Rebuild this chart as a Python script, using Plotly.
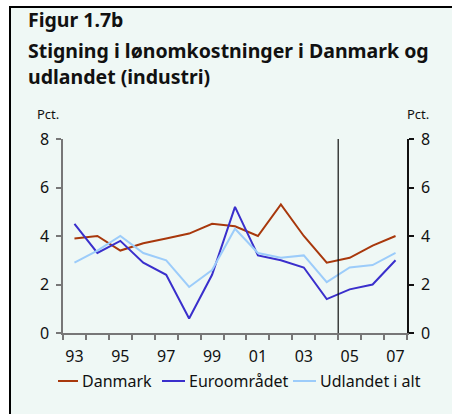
import plotly.graph_objects as go

years = list(range(1993, 2008))
tick_years = [1993, 1995, 1997, 1999, 2001, 2003, 2005, 2007]
tick_labels = ["93", "95", "97", "99", "01", "03", "05", "07"]

danmark = [3.9, 4.0, 3.4, 3.7, 3.9, 4.1, 4.5, 4.4, 4.0, 5.3, 4.0, 2.9, 3.1, 3.6, 4.0]
euro = [4.5, 3.3, 3.8, 2.9, 2.4, 0.6, 2.4, 5.2, 3.2, 3.0, 2.7, 1.4, 1.8, 2.0, 3.0]
udland = [2.9, 3.4, 4.0, 3.3, 3.0, 1.9, 2.6, 4.3, 3.3, 3.1, 3.2, 2.1, 2.7, 2.8, 3.3]

names = ["Danmark", "Euroområdet", "Udlandet i alt"]
colors = ["#a8380c", "#3a2fcc", "#9cccfa"]

W, H = 452, 414
L, R, T, B = 63, 45, 139, 81
pw, ph = W - L - R, H - T - B


def px(x):
    return (x - L) / pw


def py(y):
    return (H - B - y) / ph


BG = "#eff8f5"
FONT = "Noto Sans"

fig = go.Figure()
for name, vals, col in zip(names, [danmark, euro, udland], colors):
    fig.add_trace(go.Scatter(x=years, y=vals, mode="lines", name=name,
                             line=dict(color=col, width=2)))
fig.add_trace(go.Scatter(x=[years[0]], y=[0], yaxis="y2", mode="lines",
                         showlegend=False, hoverinfo="skip",
                         line=dict(color="rgba(0,0,0,0)")))

fig.update_layout(
    width=W, height=H,
    margin=dict(l=L, r=R, t=T, b=B, autoexpand=False),
    paper_bgcolor="white",
    plot_bgcolor="rgba(0,0,0,0)",
    font=dict(family=FONT, size=16, color="#111"),
    showlegend=False,
    xaxis=dict(range=[1992.5, 2007.5], tickvals=tick_years, ticktext=tick_labels,
               ticks="", showgrid=False, zeroline=False, showline=True, automargin=False,
               linecolor="#777", linewidth=1.5, ticklabelstandoff=8,
               minor=dict(ticks="outside", tick0=1992.5, dtick=1, ticklen=5,
                          tickcolor="#777", tickwidth=1.5, showgrid=False)),
    yaxis=dict(range=[0, 8], tickvals=[0, 2, 4, 6, 8], showgrid=False, zeroline=False,
               showline=True, linecolor="#777", linewidth=1.5, ticks="outside",
               automargin=False,
               ticklen=5, tickcolor="#777", tickwidth=1.5, ticklabelstandoff=4),
    yaxis2=dict(range=[0, 8], tickvals=[0, 2, 4, 6, 8], overlaying="y", side="right",
                showgrid=False, zeroline=False, showline=True, linecolor="#111",
                automargin=False,
                linewidth=1.5, ticks="outside", ticklen=5, tickcolor="#111",
                tickwidth=1.5, ticklabelstandoff=4),
)

shapes = [
    dict(type="rect", xref="paper", yref="paper", x0=px(10), x1=px(W), y0=py(H), y1=py(7),
         fillcolor=BG, line=dict(width=0), layer="below"),
    dict(type="line", xref="paper", yref="paper", x0=px(10), x1=px(10), y0=py(H), y1=py(6),
         line=dict(color="black", width=2)),
    dict(type="line", xref="paper", yref="paper", x0=px(9), x1=px(W), y0=py(7), y1=py(7),
         line=dict(color="black", width=2)),
    dict(type="line", xref="x", yref="y", x0=2004.5, x1=2004.5, y0=0, y1=8,
         line=dict(color="#111", width=1.2)),
]

ann = [
    dict(text="<b>Figur 1.7b</b>", x=px(26), y=py(20), xanchor="left", yanchor="middle",
         font=dict(size=19.5, color="#111")),
    dict(text="<b>Stigning i lønomkostninger i Danmark og</b>", x=px(26), y=py(50),
         xanchor="left", yanchor="middle", font=dict(size=19.5, color="#111")),
    dict(text="<b>udlandet (industri)</b>", x=px(26), y=py(76),
         xanchor="left", yanchor="middle", font=dict(size=19.5, color="#111")),
    dict(text="Pct.", x=px(48), y=py(114), xanchor="center", yanchor="middle",
         font=dict(size=13, color="#111")),
    dict(text="Pct.", x=px(418), y=py(114), xanchor="center", yanchor="middle",
         font=dict(size=13, color="#111")),
]

# manual legend
leg_y = 381
leg_lines = [(58, 78), (162, 185), (293, 316)]
for (x0, x1), name, col in zip(leg_lines, names, colors):
    shapes.append(dict(type="line", xref="paper", yref="paper", x0=px(x0), x1=px(x1),
                       y0=py(leg_y), y1=py(leg_y), line=dict(color=col, width=2)))
    ann.append(dict(text=name, x=px(x1 + 2), y=py(leg_y), xanchor="left", yanchor="middle",
                    font=dict(size=16, color="#111")))

for a in ann:
    a.update(xref="paper", yref="paper", showarrow=False)
fig.update_layout(shapes=shapes, annotations=ann)

fig.write_html("out.html", config={"displayModeBar": False},
               post_script="document.body.style.margin='0';")
